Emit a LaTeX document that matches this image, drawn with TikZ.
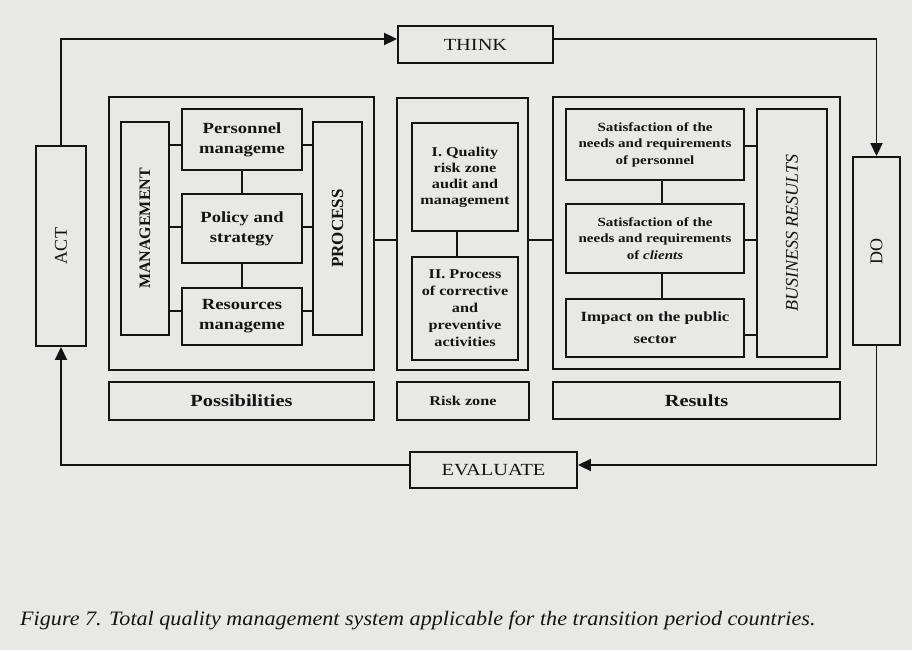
\documentclass[tikz,border=0pt]{standalone}
\usepackage{fontspec}
\setmainfont{Liberation Serif}[FakeStretch=1.2]
\newfontfamily\rotfont{Liberation Serif}
\newfontfamily\capfont{Liberation Serif}[FakeStretch=1.08]
\usetikzlibrary{arrows.meta,calc}
\definecolor{paper}{rgb}{0.91,0.91,0.905}
\definecolor{ink}{rgb}{0.08,0.08,0.08}
\newcommand{\fs}[2]{\fontsize{#1}{#2}\selectfont}
\tikzset{
  bx/.style={draw=ink, line width=1.9pt, inner sep=0pt, align=center, text=ink},
  lbl/.style={inner sep=0pt, align=center, text=ink},
  ln/.style={draw=ink, line width=1.9pt},
  arr/.style={ln, -{Triangle[length=13pt,width=12pt]}},
}
\begin{document}
\begin{tikzpicture}[x=1pt,y=-1pt]
\fill[paper] (0,0) rectangle (912,650);
\useasboundingbox (0,0) rectangle (912,650);

% outer loop boxes
\node[bx, minimum width=155, minimum height=37, font=\fs{17}{20}] (think) at (475.5,44.5) {THINK};
\node[bx, minimum width=50, minimum height=200] (act) at (61,246) {};
\node[lbl, rotate=90, font=\rotfont\fs{18}{20}] (acttext) at (act.center) {ACT};
\node[bx, minimum width=47, minimum height=188] (do) at (876.5,251) {};
\node[lbl, rotate=90, font=\rotfont\fs{18}{20}] (dotext) at (do.center) {DO};
\node[bx, minimum width=167, minimum height=36, font=\fs{17}{20}] (evaluate) at (493.5,470) {EVALUATE};

% left group
\node[bx, minimum width=265, minimum height=273] (leftout) at (241.5,233.5) {};
\node[bx, minimum width=48, minimum height=213] (mgmt) at (145,228.5) {};
\node[lbl, rotate=90, font=\rotfont\bfseries\fs{16}{19}] (mgmttext) at (mgmt.center) {MANAGEMENT};
\node[bx, minimum width=120, minimum height=61, font=\bfseries\fs{15.5}{20}] (pers) at (242,139.5) {Personnel\\manageme};
\node[bx, minimum width=120, minimum height=69, font=\bfseries\fs{15.5}{20}] (policy) at (242,228.5) {Policy and\\strategy};
\node[bx, minimum width=120, minimum height=57, font=\bfseries\fs{15.5}{20}] (res) at (242,316.5) {Resources\\manageme};
\node[bx, minimum width=49, minimum height=213] (proc) at (337.5,228.5) {};
\node[lbl, rotate=90, font=\rotfont\bfseries\fs{17}{20}] (proctext) at (proc.center) {PROCESS};

% middle group
\node[bx, minimum width=131, minimum height=272] (midout) at (462.5,234) {};
\node[bx, minimum width=106, minimum height=108, font=\bfseries\fs{13.5}{16}] (q1) at (465,177) {I. Quality\\risk zone\\audit and\\management};
\node[bx, minimum width=106, minimum height=103, font=\bfseries\fs{13.5}{17}] (q2) at (465,308.5) {II. Process\\of corrective\\and\\preventive\\activities};

% right group
\node[bx, minimum width=287, minimum height=272] (rightout) at (696.5,233) {};
\node[bx, minimum width=178, minimum height=71, font=\bfseries\fs{12.5}{16.5}] (s1) at (655,144.5) {Satisfaction of the\\needs and requirements\\of personnel};
\node[bx, minimum width=178, minimum height=69, font=\bfseries\fs{12.5}{16.5}] (s2) at (655,238.5) {Satisfaction of the\\needs and requirements\\of \textit{clients}};
\node[bx, minimum width=178, minimum height=58, font=\bfseries\fs{14}{22}] (imp) at (655,328) {Impact on the public\\sector};
\node[bx, minimum width=70, minimum height=248] (br) at (792,233) {};
\node[lbl, rotate=90, font=\rotfont\itshape\fs{18}{21}] (brtext) at (br.center) {BUSINESS RESULTS};

% bottom row
\node[bx, minimum width=265, minimum height=38, font=\bfseries\fs{17}{20}] (poss) at (241.5,401) {Possibilities};
\node[bx, minimum width=132, minimum height=38, font=\bfseries\fs{13.5}{16}] (risk) at (463,401) {Risk zone};
\node[bx, minimum width=287, minimum height=37, font=\bfseries\fs{17}{20}] (results) at (696.5,400.5) {Results};

% helper coordinates
\coordinate (ytop) at (0,39);
\coordinate (ybot) at (0,465);
\coordinate (y145) at (0,145);
\coordinate (y227) at (0,227);
\coordinate (y311) at (0,311);
\coordinate (y240) at (0,240);
\coordinate (y146) at (0,146);
\coordinate (y335) at (0,335);
\coordinate (x457) at (457,0);
\coordinate (x662) at (662,0);

% left group connectors
\draw[ln] (pers.west |- y145) -- (mgmt.east |- y145);
\draw[ln] (pers.east |- y145) -- (proc.west |- y145);
\draw[ln] (policy.west |- y227) -- (mgmt.east |- y227);
\draw[ln] (policy.east |- y227) -- (proc.west |- y227);
\draw[ln] (res.west |- y311) -- (mgmt.east |- y311);
\draw[ln] (res.east |- y311) -- (proc.west |- y311);
\draw[ln] (pers.south) -- (policy.north);
\draw[ln] (policy.south) -- (res.north);

% group connectors
\draw[ln] (leftout.east |- y240) -- (midout.west |- y240);
\draw[ln] (midout.east |- y240) -- (rightout.west |- y240);
\draw[ln] (q1.south -| x457) -- (q2.north -| x457);

% right group connectors
\draw[ln] (s1.east |- y146) -- (br.west |- y146);
\draw[ln] (s2.east |- y240) -- (br.west |- y240);
\draw[ln] (imp.east |- y335) -- (br.west |- y335);
\draw[ln] (s1.south -| x662) -- (s2.north -| x662);
\draw[ln] (s2.south -| x662) -- (imp.north -| x662);

% outer loop
\draw[arr] (act.north) -- (act.north |- ytop) -- (think.west |- ytop);
\draw[arr] (think.east |- ytop) -- (do.north |- ytop) -- (do.north);
\draw[arr] (do.south) -- (do.south |- ybot) -- (evaluate.east |- ybot);
\draw[arr] (evaluate.west |- ybot) -- (act.south |- ybot) -- (act.south);

% caption
\node[lbl, anchor=west, font=\capfont\itshape\fs{20.5}{24}] (cap) at (20,620) {Figure 7. Total quality management system applicable for the transition period countries.};
\end{tikzpicture}
\end{document}
